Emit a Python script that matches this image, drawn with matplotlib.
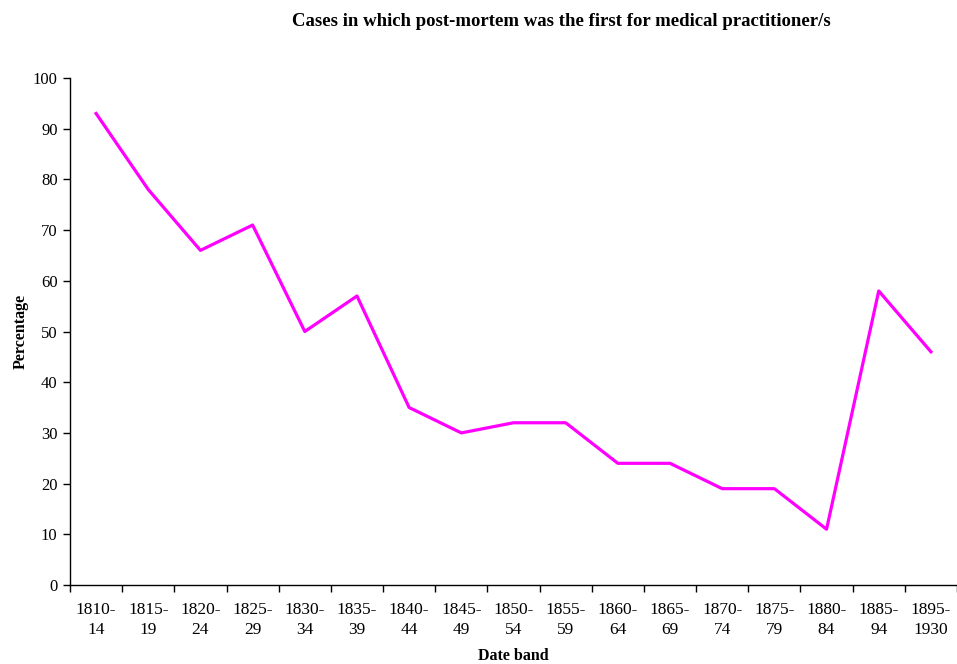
import numpy as np
import matplotlib.pyplot as plt

bands = ['1810-\n14', '1815-\n19', '1820-\n24', '1825-\n29', '1830-\n34', '1835-\n39',
         '1840-\n44', '1845-\n49', '1850-\n54', '1855-\n59', '1860-\n64', '1865-\n69',
         '1870-\n74', '1875-\n79', '1880-\n84', '1885-\n94', '1895-\n1930']
percentage = [93, 78, 66, 71, 50, 57, 35, 30, 32, 32, 24, 24, 19, 19, 11, 58, 46]

plt.rcParams['font.family'] = ['Liberation Serif', 'DejaVu Serif']

fig = plt.figure(figsize=(9.57, 6.64), dpi=100)
ax = fig.add_axes([70 / 957, 1 - 585 / 664, 887 / 957, 507 / 664])

x = np.arange(len(bands))
ax.plot(x, percentage, color='#ff00ff', linewidth=2.3)

ax.set_xlim(-0.5, len(bands) - 0.5)
ax.set_ylim(0, 100)
ax.set_yticks(range(0, 101, 10))

# category boundaries get the tick marks, centres get the labels
ax.set_xticks(np.arange(-0.5, len(bands), 1.0))
ax.set_xticklabels([])
ax.set_xticks(x, minor=True)
ax.set_xticklabels(bands, minor=True, linespacing=1.4)
ax.tick_params(axis='x', which='major', length=5, width=1, direction='out')
ax.tick_params(axis='x', which='minor', length=0, pad=12, labelsize=12.5)
ax.tick_params(axis='y', length=5, width=1, direction='out', labelsize=12, pad=4)

for s in ['top', 'right']:
    ax.spines[s].set_visible(False)
ax.spines['left'].set_linewidth(1)
ax.spines['bottom'].set_linewidth(1)

ax.set_ylabel('Percentage', fontweight='bold', fontsize=11.5, labelpad=3)
ax.set_xlabel('Date band', fontweight='bold', fontsize=11.5, labelpad=7)
fig.text(561 / 957, 1 - 22 / 664, 'Cases in which post-mortem was the first for medical practitioner/s',
         ha='center', va='center', fontweight='bold', fontsize=13.5)

fig.savefig('out.png', dpi=100)
